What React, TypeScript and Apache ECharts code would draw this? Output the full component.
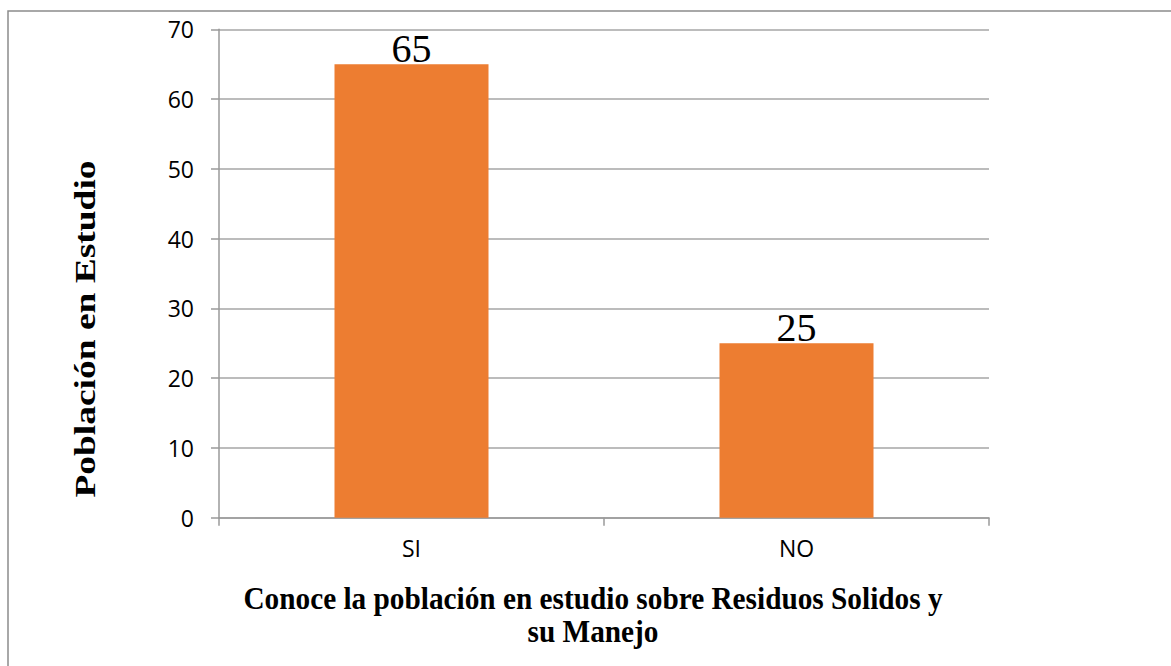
import React, { useEffect, useRef } from "react";
import * as echarts from "echarts";

const categories = ["SI", "NO"];
const values = [65, 25];
const yTicks = { min: 0, max: 70, interval: 10 };
const yTitle = "Población en Estudio";
const xTitle = "Conoce la población en estudio sobre Residuos Solidos y\nsu Manejo";

export default function App() {
  const ref = useRef<HTMLDivElement>(null);
  useEffect(() => {
    if (!ref.current) return;
    const chart = echarts.init(ref.current, undefined, { renderer: "svg" });
    chart.setOption({
      animation: false,
      backgroundColor: "#ffffff",
      grid: { left: 219, right: 182, top: 29.3, bottom: 148.3, containLabel: false },
      xAxis: {
        type: "category",
        data: categories,
        axisLine: { show: true, lineStyle: { color: "#9a9a9a", width: 1.5 } },
        axisTick: { show: true, length: 8, lineStyle: { color: "#9a9a9a", width: 1.5 } },
        axisLabel: { fontFamily: "Open Sans", fontSize: 23, color: "#000", margin: 19 },
        splitLine: { show: false },
      },
      yAxis: {
        type: "value",
        min: yTicks.min,
        max: yTicks.max,
        interval: yTicks.interval,
        axisLine: { show: true, lineStyle: { color: "#9a9a9a", width: 1.5 } },
        axisTick: { show: true, length: 8, lineStyle: { color: "#9a9a9a", width: 1.5 } },
        axisLabel: { fontFamily: "Open Sans", fontSize: 23, color: "#000", margin: 25 },
        splitLine: { show: true, lineStyle: { color: "#a6a6a6", width: 1.5 } },
      },
      series: [
        {
          type: "bar",
          data: values,
          barWidth: "40%",
          itemStyle: { color: "#ED7D31" },
          label: {
            show: true,
            position: "top",
            distance: -4,
            fontFamily: "Liberation Serif",
            fontSize: 40,
            color: "#000",
          },
        },
      ],
      graphic: [
        {
          type: "rect",
          z: -1,
          shape: { x: 8, y: 11, width: 1300, height: 800 },
          style: { fill: "none", stroke: "#8c8c8c", lineWidth: 1.5 },
        },
        {
          type: "text",
          x: 85,
          y: 329,
          rotation: Math.PI / 2,
          scaleX: 1.27,
          style: {
            text: yTitle,
            fontFamily: "Liberation Serif",
            fontWeight: "bold",
            fontSize: 29.5,
            fill: "#000",
            align: "center",
            verticalAlign: "middle",
          },
        },
        {
          type: "text",
          x: 593,
          y: 615,
          scaleX: 1.01,
          scaleY: 1.06,
          style: {
            text: xTitle,
            fontFamily: "Liberation Serif",
            fontWeight: "bold",
            fontSize: 29,
            lineHeight: 31,
            fill: "#000",
            align: "center",
            verticalAlign: "middle",
          },
        },
      ],
    });
    return () => chart.dispose();
  }, []);
  return (
    <div
      ref={ref}
      style={{ position: "fixed", left: 0, top: 0, width: 1171, height: 666 }}
    />
  );
}
